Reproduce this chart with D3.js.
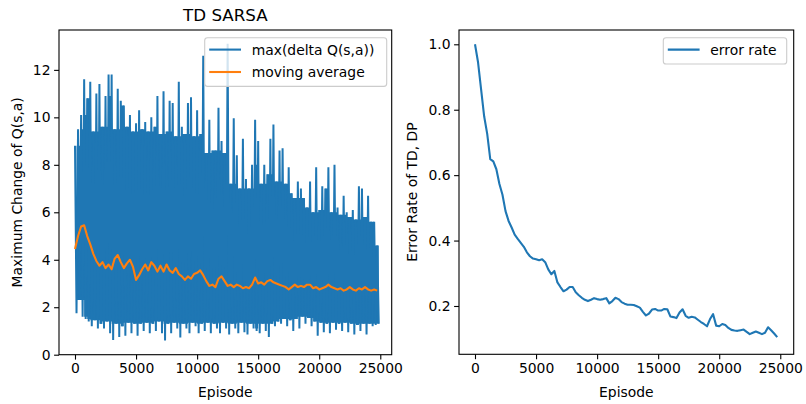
<!DOCTYPE html>
<html><head><meta charset="utf-8">
<script src="https://cdn.jsdelivr.net/npm/d3@7"></script>
<style>body{margin:0;background:#fff} svg{display:block} text{font-family:"DejaVu Sans",sans-serif;fill:#000}</style>
</head><body><svg id="c" width="806" height="404"></svg>
<script>
// ---- data ----
const episodes = d3.range(0, 25000, 250);
// highest max(delta Q) in each 250-episode bin
const deltaHigh = [
8.8, 9.5, 10.1, 11.6, 10.8, 11.5, 9.4, 11.0, 11.4, 9.6,
10.9, 11.8, 11.8, 9.5, 11.2, 10.7, 10.5, 9.6, 10.1, 9.4,
9.75, 10.3, 9.5, 9.8, 9.4, 10.0, 9.6, 10.9, 9.3, 11.1,
9.4, 10.7, 10.6, 9.2, 11.5, 9.6, 9.3, 10.6, 10.85, 9.2,
10.3, 9.3, 12.6, 8.5, 9.9, 8.6, 8.6, 10.4, 9.0, 8.5,
13.1, 7.2, 9.96, 8.4, 7.0, 9.1, 7.4, 7.0, 8.0, 9.9,
9.0, 7.2, 8.0, 7.6, 9.1, 9.7, 7.3, 8.6, 8.7, 7.2,
7.9, 6.8, 6.6, 7.3, 7.0, 6.6, 6.2, 7.3, 6.0, 7.9,
6.1, 7.1, 7.0, 7.9, 6.0, 8.0, 6.2, 5.9, 6.7, 6.0,
5.8, 6.1, 5.7, 7.1, 7.0, 5.8, 6.7, 5.6, 5.6, 4.6
];
// lowest max(delta Q) in each 250-episode bin
const deltaLow = [
1.75, 2.3, 1.6, 1.5, 1.4, 1.2, 1.45, 1.1, 1.3, 1.1,
1.4, 0.9, 0.62, 1.3, 0.75, 1.2, 0.8, 1.35, 0.9, 1.3,
0.8, 1.3, 1.0, 1.35, 0.9, 1.3, 1.0, 1.4, 0.9, 0.6,
1.3, 0.9, 1.35, 1.1, 0.72, 1.3, 1.1, 0.9, 1.35, 1.2,
0.9, 1.3, 1.0, 1.35, 0.9, 1.3, 1.1, 0.9, 1.35, 1.1,
0.85, 1.3, 1.1, 0.9, 1.35, 0.95, 0.85, 1.3, 1.1, 1.0,
0.9, 1.3, 1.0, 0.75, 1.3, 1.2, 1.4, 1.3, 1.5, 1.2,
1.45, 1.0, 1.5, 1.1, 1.6, 1.3, 1.55, 1.2, 1.4, 0.8,
1.35, 0.95, 1.3, 0.9, 1.35, 1.05, 1.3, 1.0, 1.35, 0.95,
1.3, 0.85, 1.25, 1.0, 1.3, 0.85, 1.3, 1.2, 1.25, 1.3
];
const movingAvg = [
4.45, 5.0, 5.4, 5.45, 5.0, 4.65, 4.25, 3.95, 3.75, 3.9,
3.65, 3.8, 3.6, 4.05, 4.2, 3.9, 3.65, 3.85, 4.0, 3.7,
3.15, 3.35, 3.6, 3.8, 3.55, 3.9, 3.75, 3.5, 3.75, 3.5,
3.8, 3.55, 3.45, 3.65, 3.4, 3.3, 3.15, 3.3, 3.2, 3.4,
3.45, 3.55, 3.35, 3.1, 2.9, 2.95, 2.85, 3.2, 3.3, 3.1,
2.9, 2.95, 2.85, 2.95, 2.9, 2.8, 2.85, 2.8, 2.95, 3.25,
3.0, 3.05, 2.95, 3.1, 3.15, 3.05, 3.0, 2.95, 2.9, 2.85,
2.75, 2.85, 2.95, 2.85, 2.9, 2.85, 2.95, 2.95, 2.8, 2.85,
2.75, 2.8, 2.85, 2.95, 2.85, 2.8, 2.75, 2.8, 2.7, 2.75,
2.85, 2.75, 2.7, 2.8, 2.75, 2.85, 2.75, 2.7, 2.75, 2.7
];
const errorRate = [
1.0, 0.945, 0.862, 0.78, 0.726, 0.649, 0.642, 0.618, 0.573, 0.54,
0.49, 0.46, 0.44, 0.418, 0.405, 0.393, 0.381, 0.364, 0.352, 0.345,
0.343, 0.34, 0.343, 0.334, 0.312, 0.297, 0.307, 0.272, 0.258, 0.245,
0.25, 0.258, 0.258, 0.242, 0.233, 0.225, 0.219, 0.215, 0.219, 0.224,
0.221, 0.219, 0.221, 0.224, 0.208, 0.215, 0.225, 0.221, 0.212, 0.207,
0.204, 0.204, 0.203, 0.199, 0.195, 0.182, 0.171, 0.177, 0.189, 0.191,
0.186, 0.186, 0.191, 0.19, 0.168, 0.166, 0.163, 0.18, 0.19, 0.17,
0.164, 0.167, 0.165, 0.158, 0.151, 0.145, 0.138, 0.16, 0.175, 0.14,
0.138, 0.145, 0.142, 0.133, 0.127, 0.125, 0.124, 0.126, 0.128, 0.121,
0.114, 0.118, 0.122, 0.118, 0.114, 0.118, 0.135, 0.126, 0.116, 0.105
];
const xTicks = [0, 5000, 10000, 15000, 20000, 25000];
const leftYTicks = [0, 2, 4, 6, 8, 10, 12];
const rightYTicks = [0.2, 0.4, 0.6, 0.8, 1.0];
const leftLegend = ["max(delta Q(s,a))", "moving average"];
const rightLegend = ["error rate"];

// ---- drawing ----
const BLUE = "#1f77b4", ORANGE = "#ff7f0e";
const svg = d3.select("#c");
const FS = 13.9;

function frame(L, T, R, B, xDom, yDom, yTicks, yFmt, id) {
  const x = d3.scaleLinear().domain(xDom).range([L, R]);
  const y = d3.scaleLinear().domain(yDom).range([B, T]);
  svg.append("clipPath").attr("id", id).append("rect")
    .attr("x", L).attr("y", T).attr("width", R - L).attr("height", B - T);
  const gx = svg.append("g").attr("transform", `translate(0,${B})`)
    .call(d3.axisBottom(x).tickValues(xTicks).tickFormat(d3.format("d")).tickSize(4.9).tickPadding(3.6));
  const gy = svg.append("g").attr("transform", `translate(${L},0)`)
    .call(d3.axisLeft(y).tickValues(yTicks).tickFormat(yFmt).tickSize(4.9).tickPadding(3.6));
  [gx, gy].forEach(g => {
    g.select(".domain").remove();
    g.selectAll(".tick line").attr("stroke", "#000").attr("stroke-width", 1.1);
    g.selectAll(".tick text").attr("font-size", FS).attr("font-family", "DejaVu Sans").attr("fill", "#000");
  });
  return {x, y};
}

function spine(L, T, R, B) {
  svg.append("rect").attr("x", L).attr("y", T).attr("width", R - L).attr("height", B - T)
    .attr("fill", "none").attr("stroke", "#000").attr("stroke-width", 1.1);
}

// Left panel
const L1 = 59, R1 = 391.7, T1 = 30, B1 = 354.7;
const s1 = frame(L1, T1, R1, B1, [-1310, 25935], [0, 13.68], leftYTicks, d3.format("d"), "clipL");
// the densely overdrawn core of the per-episode line: in each bin it is covered
// up to the lowest of the neighbouring highs and down to the highest neighbouring low
const n = episodes.length;
const nb = i => [Math.max(0, i - 1), i, Math.min(n - 1, i + 1)];
const coreTop = episodes.map((e, i) => d3.min(nb(i), j => deltaHigh[j]));
const coreBot = episodes.map((e, i) => d3.max(nb(i), j => deltaLow[j]));
const core = d3.area().curve(d3.curveStep)
  .x((e, i) => s1.x(e + 125)).y0((e, i) => s1.y(coreBot[i])).y1((e, i) => s1.y(coreTop[i]));
svg.append("path").datum(episodes).attr("d", core).attr("fill", BLUE).attr("clip-path", "url(#clipL)");
const zig = episodes.flatMap((e, i) => [[e, deltaHigh[i]], [e + 125, deltaLow[i]]]);
const line1 = d3.line().x(d => s1.x(d[0])).y(d => s1.y(d[1]));
svg.append("path").datum(zig).attr("d", line1).attr("fill", "none")
  .attr("stroke", BLUE).attr("stroke-width", 2).attr("stroke-linejoin", "miter").attr("stroke-miterlimit", 2)
  .attr("clip-path", "url(#clipL)");
svg.append("path").datum(episodes.map((e, i) => [e, movingAvg[i]])).attr("d", line1).attr("fill", "none")
  .attr("stroke", ORANGE).attr("stroke-width", 2.1).attr("stroke-linejoin", "round")
  .attr("clip-path", "url(#clipL)");
spine(L1, T1, R1, B1);

// Right panel
const L2 = 459, R2 = 793.7, T2 = 30, B2 = 354.3;
const s2 = frame(L2, T2, R2, B2, [-1310, 26100], [0.0523, 1.0437], rightYTicks, d3.format(".1f"), "clipR");
const line2 = d3.line().x(d => s2.x(d[0])).y(d => s2.y(d[1]));
svg.append("path").datum(episodes.map((e, i) => [e, errorRate[i]])).attr("d", line2).attr("fill", "none")
  .attr("stroke", BLUE).attr("stroke-width", 2.1).attr("stroke-linejoin", "round")
  .attr("clip-path", "url(#clipR)");
spine(L2, T2, R2, B2);

// Legends
function legend(x0, y0, w, labels, colors) {
  const g = svg.append("g");
  g.append("rect").attr("x", x0).attr("y", y0).attr("width", w).attr("height", 10.6 + labels.length * 22.4 - 6.7)
    .attr("rx", 2.8).attr("fill", "#fff").attr("fill-opacity", 0.8)
    .attr("stroke", "#cccccc").attr("stroke-width", 1.1);
  labels.forEach((t, i) => {
    const yy = y0 + 11.9 + i * 22.4;
    g.append("line").attr("x1", x0 + 4.5).attr("x2", x0 + 36.3).attr("y1", yy).attr("y2", yy)
      .attr("stroke", colors[i]).attr("stroke-width", 2.1);
    g.append("text").attr("x", x0 + 47).attr("y", yy).attr("dy", "0.36em")
      .attr("font-size", FS).text(t);
  });
}
legend(204.7, 37.7, 182, leftLegend, [BLUE, ORANGE]);
legend(663.3, 37.7, 123.4, rightLegend, [BLUE]);

// Titles and axis labels
svg.append("text").attr("x", (L1 + R1) / 2).attr("y", 20.7).attr("text-anchor", "middle")
  .attr("font-size", 16.7).text("TD SARSA");
svg.append("text").attr("x", (L1 + R1) / 2).attr("y", 396.5).attr("text-anchor", "middle")
  .attr("font-size", FS).text("Episode");
svg.append("text").attr("x", (L2 + R2) / 2).attr("y", 396.5).attr("text-anchor", "middle")
  .attr("font-size", FS).text("Episode");
svg.append("text").attr("transform", `translate(21.5,${(T1 + B1) / 2}) rotate(-90)`).attr("text-anchor", "middle")
  .attr("font-size", FS).text("Maximum Change of Q(s,a)");
svg.append("text").attr("transform", `translate(417,${(T2 + B2) / 2}) rotate(-90)`).attr("text-anchor", "middle")
  .attr("font-size", FS).text("Error Rate of TD, DP");
</script></body></html>
